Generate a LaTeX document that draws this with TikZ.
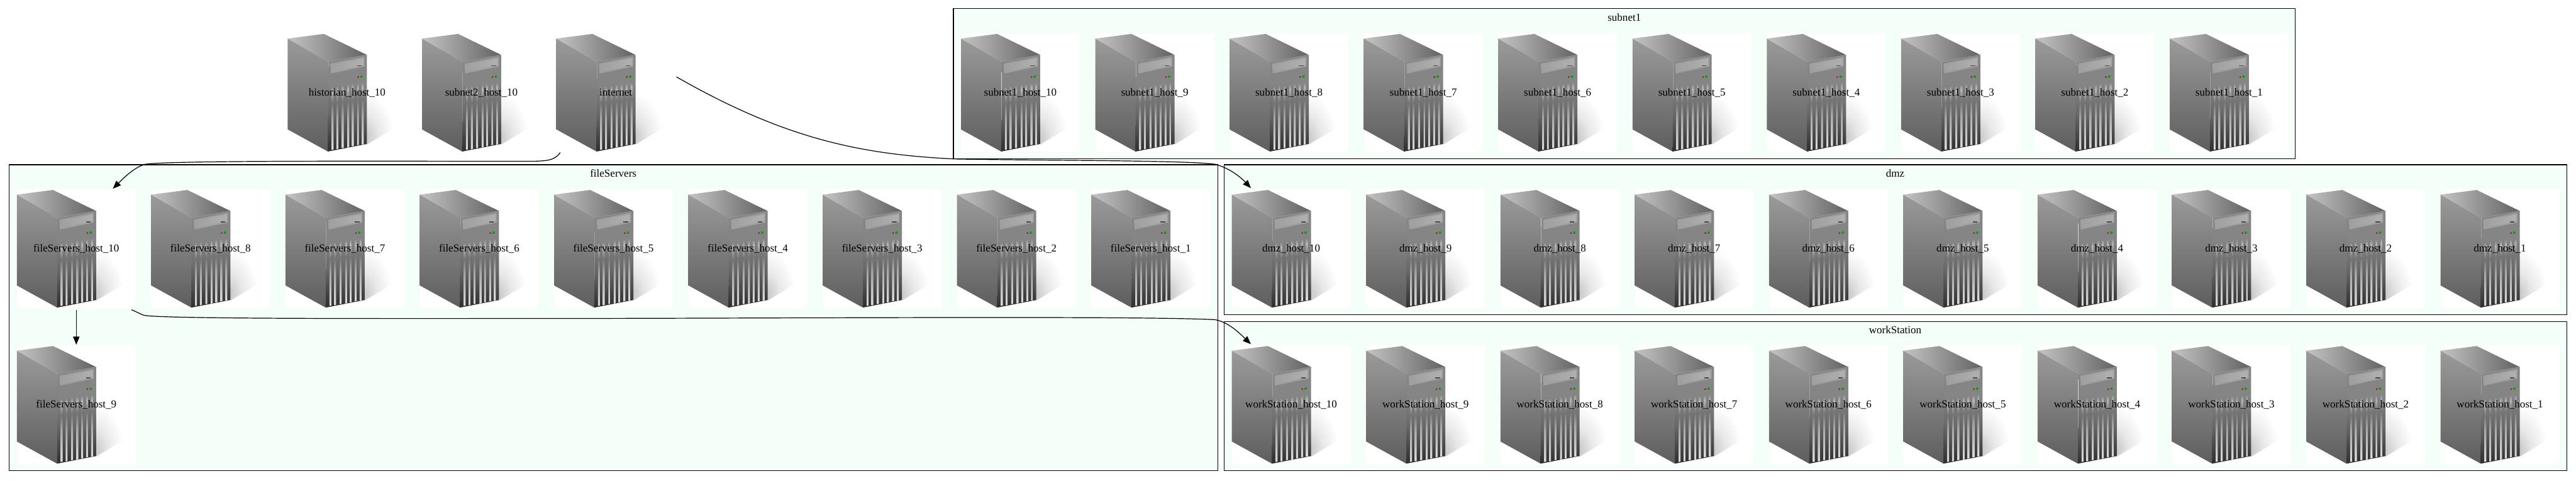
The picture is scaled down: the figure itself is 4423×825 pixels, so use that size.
\documentclass[tikz,border=0pt]{standalone}
\usepackage{fontspec}
\setmainfont{Liberation Serif}
\usetikzlibrary{arrows.meta}
\definecolor{mint}{HTML}{F5FFFA}
\definecolor{faceA}{HTML}{9A9A9A}
\definecolor{faceB}{HTML}{5E5E5E}
\definecolor{topA}{HTML}{C4C4C4}
\definecolor{topB}{HTML}{626262}
\definecolor{barLo}{HTML}{DCDCDC}
\definecolor{barMid}{HTML}{A8A8A8}
\definecolor{barDim}{HTML}{747474}
\definecolor{barHi}{HTML}{B8B8B8}
\definecolor{barTop}{HTML}{868686}
\definecolor{panA}{HTML}{858585}
\definecolor{panB}{HTML}{666666}
\definecolor{panC}{HTML}{2E2E2E}
\definecolor{glowA}{HTML}{C4C4C4}
\definecolor{glowB}{HTML}{E8E8E8}
\pgfdeclareverticalshading{slotbar}{100bp}{color(0bp)=(barLo); color(25bp)=(barLo); color(50bp)=(barMid); color(62bp)=(barDim); color(71bp)=(barHi); color(75bp)=(barTop); color(100bp)=(barTop)}
\pgfdeclareverticalshading{frontpanel}{100bp}{color(0bp)=(panC); color(25bp)=(panC); color(44bp)=(panB); color(60bp)=(panA); color(75bp)=(panA); color(100bp)=(panA)}
\pgfdeclareradialshading{shadowglow}{\pgfpointorigin}{color(0bp)=(glowA); color(12bp)=(glowB); color(25bp)=(white); color(50bp)=(white)}
\newcommand{\slotbar}[3]{\path[shading=slotbar] (#1-1.6,#2) -- (#1+1.6,#2-.5) -- (#1+1.6,#3-.4) -- (#1-1.6,#3) -- cycle;}
\newcommand{\serverart}[2]{%
  \pgfmathsetmacro{\artx}{#1-102}%
  \pgfmathsetmacro{\arty}{#2-101.75}%
  \begin{scope}[shift={(\artx,\arty)}]
    \fill[white] (0,0) rectangle (204,203.5);
    \begin{scope}
      \clip (136,95) -- (204,95) -- (204,150) -- (136,191) -- cycle;
      \path[shading=shadowglow] (132,180) ellipse [x radius=52, y radius=78];
    \end{scope}
    \path[top color=faceA, bottom color=faceB] (0,9) -- (70,49) -- (69,203) -- (0,165) -- cycle;
    \path[left color=topA, right color=topB] (0,9) -- (62,1) -- (136,37) -- (70,49) -- cycle;
    \path[shading=frontpanel] (70,49) -- (136,37) -- (136,190) -- (69,203) -- cycle;
    \draw[gray!80, line width=.7pt] (70,49) -- (136,37);
    \path[fill=gray!75] (73,52) -- (132,40) -- (132,57) -- (74,69) -- cycle;
    \path[left color=gray!75, right color=gray!62] (75,54) -- (130,43) -- (130,55) -- (75,66) -- cycle;
    \path[fill=gray!60!black] (119,55) rectangle (127,56.5);
    \fill[red!60!black] (121,75) circle (1.4);
    \fill[green!65!black] (126.7,74.3) circle (2.2);
    \slotbar{77}{92}{200}
    \slotbar{85.3}{91}{199}
    \slotbar{94.7}{90}{197}
    \slotbar{104}{88}{196}
    \slotbar{112}{87}{194}
    \slotbar{120.7}{86}{192}
    \slotbar{129}{85}{191}
  \end{scope}}
\newcommand{\hostnode}[4]{\serverart{#2}{#3}\node[hostbox] (#1) at (#2,#3) {#4};}
\tikzset{
  x=1pt, y=-1pt,
  cluster/.style={draw=black, fill=mint, line width=1.3pt},
  clusterlabel/.style={inner sep=0pt, font=\fontsize{18.4}{22}\selectfont},
  hostbox/.style={inner sep=0pt, minimum width=204pt, minimum height=203.5pt,
    font=\fontsize{18.4}{22}\selectfont},
  link/.style={draw=black, line width=1.3pt, -{Triangle[length=14pt,width=11pt]}}
}
\begin{document}
\begin{tikzpicture}
\useasboundingbox (0,0) rectangle (4423,825);
\fill[white] (0,0) rectangle (4423,825);
% clusters
\path[cluster] (1637,15) rectangle (3941,273);
\path[cluster] (15.5,283) rectangle (2091,808);
\path[cluster] (2102,283) rectangle (4407,540.5);
\path[cluster] (2102,552) rectangle (4407,808);
\node[clusterlabel] (lblsubnet) at (2789,30) {subnet1};
\node[clusterlabel] (lblfile) at (1053,298) {fileServers};
\node[clusterlabel] (lbldmz) at (3254,298) {dmz};
\node[clusterlabel] (lblwork) at (3254,567) {workStation};
% free hosts
\hostnode{historian}{596}{159}{historian\_host\_10}
\hostnode{subnettwo}{826.6}{159}{subnet2\_host\_10}
\hostnode{internet}{1057.2}{159}{internet}
% subnet1
\foreach \i in {10,...,1} {
  \pgfmathsetmacro{\px}{1752+(10-\i)*230.6}
  \hostnode{subnet\i}{\px}{159}{subnet1\_host\_\i}
}
% dmz
\foreach \i in {10,...,1} {
  \pgfmathsetmacro{\px}{2217+(10-\i)*230.6}
  \hostnode{dmz\i}{\px}{427}{dmz\_host\_\i}
}
% workStation
\foreach \i in {10,...,1} {
  \pgfmathsetmacro{\px}{2217+(10-\i)*230.6}
  \hostnode{work\i}{\px}{695}{workStation\_host\_\i}
}
% fileServers
\hostnode{file10}{131}{427}{fileServers\_host\_10}
\foreach \i [count=\k] in {8,...,1} {
  \pgfmathsetmacro{\px}{131+\k*230.6}
  \hostnode{file\i}{\px}{427}{fileServers\_host\_\i}
}
\hostnode{file9}{131}{695}{fileServers\_host\_9}
% connectors
\draw[link] ([xshift=7pt,yshift=-1pt]internet.south west)
  .. controls (952,276) and (940,277) .. (900,277)
  .. controls (700,277) and (300,275) .. (250,282)
  .. controls (232,286) and (212,306) .. ([xshift=165pt,yshift=1pt]file10.north west);
\draw[link] ([xshift=2pt,yshift=27pt]internet.east)
  .. controls (1350,240) and (1480,265) .. (1638,273)
  .. controls (1800,276) and (2030,275) .. (2086,282)
  .. controls (2110,288) and (2130,304) .. ([xshift=33pt,yshift=2pt]dmz10.north west);
\draw[link] ([xshift=197pt,yshift=-3pt]file10.south west)
  .. controls (236,536) and (243,541) .. (250,542)
  .. controls (300,548) and (700,547) .. (900,547)
  .. controls (1300,547) and (1950,542) .. (2086,549)
  .. controls (2110,553) and (2130,574) .. ([xshift=33pt,yshift=2pt]work10.north west);
\draw[link] ([yshift=-3pt]file10.south) -- ([yshift=1pt]file9.north);
\end{tikzpicture}
\end{document}
